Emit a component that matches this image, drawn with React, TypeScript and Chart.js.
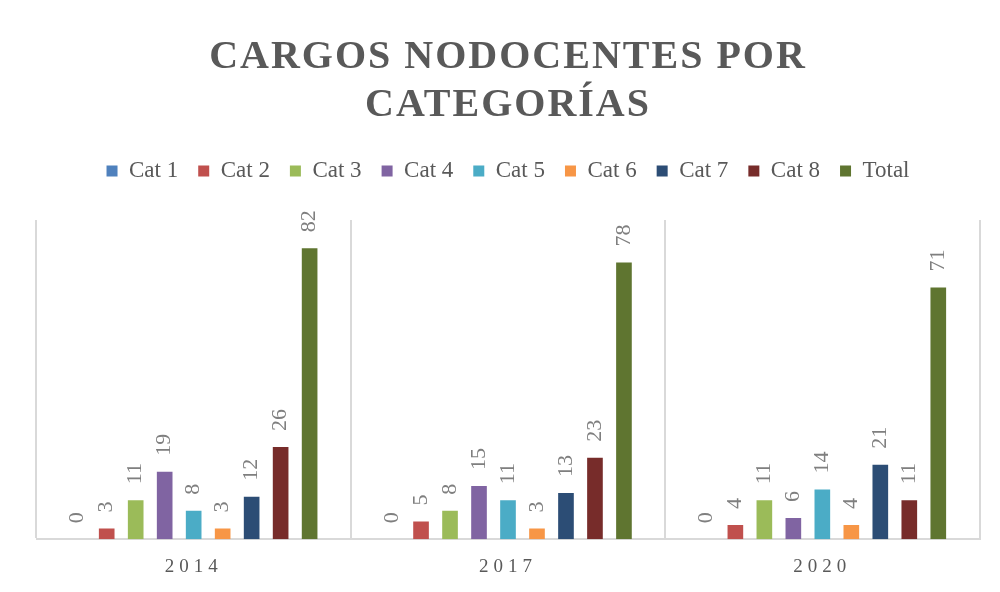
import React, { useEffect, useRef } from "react";
import { Chart, registerables } from "chart.js";

Chart.register(...registerables);

// ---- data ----
const YEARS = ["2014", "2017", "2020"];
const SERIES_NAMES = ["Cat 1", "Cat 2", "Cat 3", "Cat 4", "Cat 5", "Cat 6", "Cat 7", "Cat 8", "Total"];
const CAT1 = [0, 0, 0];
const CAT2 = [3, 5, 4];
const CAT3 = [11, 8, 11];
const CAT4 = [19, 15, 6];
const CAT5 = [8, 11, 14];
const CAT6 = [3, 3, 4];
const CAT7 = [12, 13, 21];
const CAT8 = [26, 23, 11];
const TOTAL = [82, 78, 71];
const SERIES_VALUES = [CAT1, CAT2, CAT3, CAT4, CAT5, CAT6, CAT7, CAT8, TOTAL];
const SERIES_COLORS = ["#4F81BD", "#C0504D", "#9BBB59", "#8064A2", "#4BACC6", "#F79646", "#2C4D75", "#772C2A", "#5F7530"];
const TITLE_LINES = ["CARGOS NODOCENTES POR", "CATEGORÍAS"];
const Y_MIN = 0;
const Y_MAX = 90;

const SERIF = '"Liberation Serif", "Times New Roman", serif';

function patchTitle(chart: any) {
  const tb = chart.titleBlock;
  if (tb && !tb.__ls) {
    const orig = tb.draw;
    tb.draw = function (this: any, ...args: any[]) {
      const ctx = this.ctx;
      ctx.save();
      ctx.letterSpacing = "2px";
      orig.apply(this, args);
      ctx.restore();
    };
    tb.__ls = true;
  }
}

const textPlugin = {
  id: "textStyling",
  afterInit(chart: any) {
    patchTitle(chart);
  },
  beforeDraw(chart: any) {
    patchTitle(chart);
    chart.ctx.letterSpacing = "0px";
  },
  afterDatasetsDraw(chart: any) {
    const ctx = chart.ctx;
    ctx.save();
    ctx.letterSpacing = "0px";
    ctx.font = `22px ${SERIF}`;
    ctx.fillStyle = "#7F7F7F";
    ctx.textAlign = "left";
    ctx.textBaseline = "middle";
    chart.data.datasets.forEach((ds: any, i: number) => {
      const meta = chart.getDatasetMeta(i);
      if (meta.hidden) return;
      meta.data.forEach((bar: any, j: number) => {
        const v = ds.data[j];
        ctx.save();
        ctx.translate(bar.x, bar.y - 16);
        ctx.rotate(-Math.PI / 2);
        ctx.fillText(String(v), 0, 0);
        ctx.restore();
      });
    });
    ctx.restore();
    // x tick labels (drawn after datasets, z=1) are letter-spaced
    ctx.letterSpacing = "5px";
  },
  afterDraw(chart: any) {
    chart.ctx.letterSpacing = "0px";
  },
};

export default function App() {
  const ref = useRef<HTMLCanvasElement>(null);

  useEffect(() => {
    if (!ref.current) return;
    const chart = new Chart(ref.current, {
      type: "bar",
      data: {
        labels: YEARS,
        datasets: SERIES_NAMES.map((name, i) => ({
          label: name,
          data: SERIES_VALUES[i],
          backgroundColor: SERIES_COLORS[i],
          borderWidth: 0,
          categoryPercentage: 0.83,
          barPercentage: 0.54,
        })),
      },
      options: {
        responsive: true,
        maintainAspectRatio: false,
        animation: false,
        events: [],
        layout: { padding: { left: 28.5, right: 12.5, top: 0, bottom: -10 } },
        plugins: {
          title: {
            display: true,
            text: TITLE_LINES,
            color: "#595959",
            font: { family: SERIF, size: 40, weight: "bold", lineHeight: 1.2 },
            padding: { top: 26, bottom: 9.5 },
          },
          subtitle: {
            display: true,
            text: "",
            weight: 500,
            font: { size: 10, lineHeight: 1 },
            padding: { top: 17.5, bottom: 0 },
          } as any,
          legend: {
            display: true,
            position: "top",
            labels: {
              boxWidth: 11,
              boxHeight: 11,
              padding: 20,
              color: "#595959",
              font: { family: SERIF, size: 23 },
            },
          },
          tooltip: { enabled: false },
        },
        scales: {
          x: {
            grid: { color: "#D9D9D9", lineWidth: 2, drawTicks: false, offset: true },
            border: { color: "#D9D9D9", width: 2 },
            ticks: {
              color: "#595959",
              font: { family: SERIF, size: 19 },
              padding: 16,
              z: 1,
            } as any,
          },
          y: { display: false, min: Y_MIN, max: Y_MAX },
        },
      },
      plugins: [textPlugin as any],
    });
    return () => chart.destroy();
  }, []);

  return (
    <div
      style={{
        position: "relative",
        width: 984,
        height: 576,
        marginLeft: -2,
        marginTop: -2,
        borderLeft: "2px solid #D9D9D9",
        borderTop: "2px solid #D9D9D9",
      }}
    >
      <canvas ref={ref} />
    </div>
  );
}
